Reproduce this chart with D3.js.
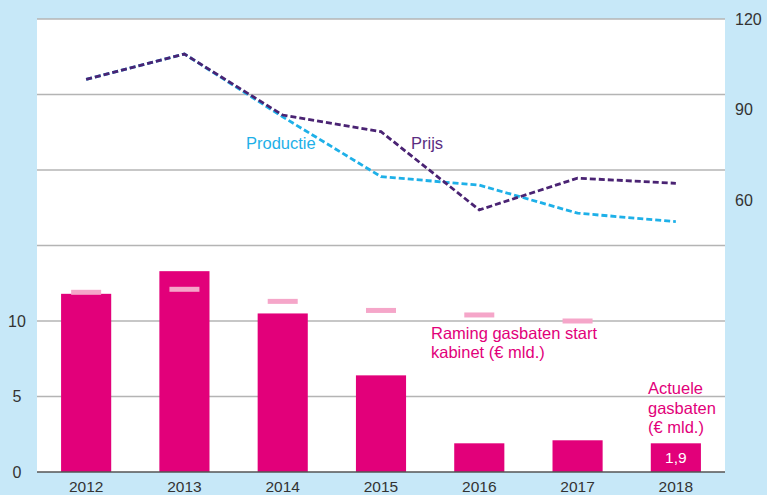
<!DOCTYPE html>
<html>
<head>
<meta charset="utf-8">
<script src="https://cdn.jsdelivr.net/npm/d3@7"></script>
<style>
  html, body { margin: 0; padding: 0; background: #c7e8f8; }
  svg { display: block; font-family: "Liberation Sans", Arial, sans-serif; }
</style>
</head>
<body>
<svg id="chart"></svg>
<script>
// data
const years = [2012, 2013, 2014, 2015, 2016, 2017, 2018];
const actueleGasbaten = [11.8, 13.3, 10.5, 6.4, 1.9, 2.1, 1.9];
const ramingYears = [2012, 2013, 2014, 2015, 2016, 2017];
const ramingGasbaten = [11.9, 12.1, 11.3, 10.7, 10.4, 10.0];
const prijs = [100, 108.4, 88.2, 82.7, 56.8, 67.3, 65.6];
const productie = [100, 108.4, 87.6, 67.8, 65.0, 55.7, 52.9];
const leftTicks = [0, 5, 10];
const gridTicks = [5, 10, 15, 20, 25, 30];
const rightTicks = [60, 90, 120];

const width = 767, height = 495;
const margin = { top: 19, right: 42, bottom: 23, left: 37 };

const svg = d3.select("#chart").attr("width", width).attr("height", height);

const x = d3.scaleBand()
  .domain(years)
  .range([margin.left, width - margin.right])
  .paddingInner(0.49)
  .paddingOuter(0.245);

const yLeft = d3.scaleLinear()
  .domain([0, 30])
  .range([height - margin.bottom, margin.top]);

const yRight = d3.scaleLinear()
  .domain([-30, 120])
  .range([height - margin.bottom, margin.top]);

// white plot area
svg.append("rect")
  .attr("x", margin.left)
  .attr("y", margin.top)
  .attr("width", width - margin.left - margin.right)
  .attr("height", height - margin.top - margin.bottom)
  .attr("fill", "#fff");

// gridlines
svg.append("g")
  .selectAll("line")
  .data(gridTicks)
  .join("line")
  .attr("x1", margin.left)
  .attr("x2", width - margin.right)
  .attr("y1", d => yLeft(d))
  .attr("y2", d => yLeft(d))
  .attr("stroke", "#b4b4b4")
  .attr("stroke-width", 1.5);

// left axis labels
svg.append("g")
  .selectAll("text")
  .data(leftTicks)
  .join("text")
  .attr("x", 17)
  .attr("y", d => yLeft(d))
  .attr("dy", "0.36em")
  .attr("text-anchor", "middle")
  .attr("fill", "#333")
  .style("font-size", "16px")
  .text(d => d);

// right axis labels
svg.append("g")
  .selectAll("text")
  .data(rightTicks)
  .join("text")
  .attr("x", 735)
  .attr("y", d => yRight(d))
  .attr("dy", "0.36em")
  .attr("text-anchor", "start")
  .attr("fill", "#333")
  .style("font-size", "16px")
  .text(d => d);

// bars
svg.append("g")
  .selectAll("rect")
  .data(years.map((y, i) => ({ year: y, value: actueleGasbaten[i] })))
  .join("rect")
  .attr("x", d => x(d.year))
  .attr("y", d => yLeft(d.value))
  .attr("width", x.bandwidth())
  .attr("height", d => yLeft(0) - yLeft(d.value))
  .attr("fill", "#e2007a");

// raming markers
const markerW = 30;
svg.append("g")
  .selectAll("rect")
  .data(ramingYears.map((y, i) => ({ year: y, value: ramingGasbaten[i] })))
  .join("rect")
  .attr("x", d => x(d.year) + x.bandwidth() / 2 - markerW / 2)
  .attr("y", d => yLeft(d.value) - 2.5)
  .attr("width", markerW)
  .attr("height", 5)
  .attr("fill", "#f5a6c9");

// x axis
svg.append("line")
  .attr("x1", margin.left)
  .attr("x2", width - margin.right)
  .attr("y1", yLeft(0))
  .attr("y2", yLeft(0))
  .attr("stroke", "#555")
  .attr("stroke-width", 1.5);

svg.append("g")
  .selectAll("text")
  .data(years)
  .join("text")
  .attr("x", d => x(d) + x.bandwidth() / 2)
  .attr("y", 492)
  .attr("text-anchor", "middle")
  .attr("fill", "#333")
  .style("font-size", "15.5px")
  .text(d => d);

// lines
const line = d3.line()
  .x((d, i) => x(years[i]) + x.bandwidth() / 2)
  .y(d => yRight(d));

svg.append("path")
  .attr("d", line(productie))
  .attr("fill", "none")
  .attr("stroke", "#1eb0e8")
  .attr("stroke-width", 2.8)
  .attr("stroke-dasharray", "6,3");

svg.append("path")
  .attr("d", line(prijs))
  .attr("fill", "none")
  .attr("stroke", "#4a2373")
  .attr("stroke-width", 2.8)
  .attr("stroke-dasharray", "6,3");

// labels
svg.append("text")
  .attr("x", 246).attr("y", 149)
  .attr("fill", "#1eb0e8")
  .style("font-size", "16.5px")
  .text("Productie");

svg.append("text")
  .attr("x", 411).attr("y", 149)
  .attr("fill", "#5a2d82")
  .style("font-size", "16.5px")
  .text("Prijs");

const raming = svg.append("text")
  .attr("fill", "#e2007a")
  .style("font-size", "16.5px");
raming.append("tspan").attr("x", 431).attr("y", 339).text("Raming gasbaten start");
raming.append("tspan").attr("x", 431).attr("y", 358).text("kabinet (€ mld.)");

const actuele = svg.append("text")
  .attr("fill", "#e2007a")
  .style("font-size", "16.5px");
actuele.append("tspan").attr("x", 648).attr("y", 394).text("Actuele");
actuele.append("tspan").attr("x", 648).attr("y", 414).text("gasbaten");
actuele.append("tspan").attr("x", 648).attr("y", 433).text("(€ mld.)");

// value inside last bar
svg.append("text")
  .attr("x", x(2018) + x.bandwidth() / 2)
  .attr("y", 463)
  .attr("text-anchor", "middle")
  .attr("fill", "#fff")
  .style("font-size", "15.5px")
  .text(actueleGasbaten[6].toString().replace(".", ","));
</script>
</body>
</html>
